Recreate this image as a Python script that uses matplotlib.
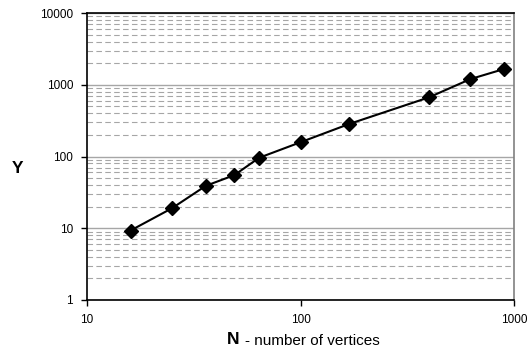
import matplotlib
matplotlib.use("Agg")
import matplotlib.pyplot as plt
import matplotlib.ticker as mticker

# data
n_vertices = [16, 25, 36, 49, 64, 100, 169, 400, 625, 900]
y_values = [9.3, 19, 39, 55, 96, 158, 284, 668, 1200, 1660]

x_ticks = [10, 100, 1000]
y_ticks = [1, 10, 100, 1000, 10000]

plt.rcParams['font.family'] = ['Liberation Sans', 'DejaVu Sans']

fig = plt.figure(figsize=(5.32, 3.54), dpi=100)
ax = fig.add_axes([87 / 532, 1 - 300 / 354, 427 / 532, 287 / 354])

ax.set_xscale("log")
ax.set_yscale("log")
ax.set_xlim(10, 1000)
ax.set_ylim(1, 10000)

# gridlines: solid at decades, dashed in between
ax.yaxis.set_major_locator(mticker.FixedLocator(y_ticks))
ax.yaxis.set_minor_locator(mticker.LogLocator(base=10, subs=range(2, 10)))
ax.xaxis.set_major_locator(mticker.FixedLocator(x_ticks))
ax.xaxis.set_minor_locator(mticker.NullLocator())
ax.yaxis.set_major_formatter(mticker.FuncFormatter(lambda v, p: "%d" % v))
ax.yaxis.set_minor_formatter(mticker.NullFormatter())
ax.xaxis.set_major_formatter(mticker.FuncFormatter(lambda v, p: "%d" % v))

ax.grid(True, which="major", axis="y", color="#a6a6a6", linewidth=1.0)
ax.grid(True, which="minor", axis="y", color="#a6a6a6", linewidth=0.8,
        linestyle=(0, (5, 3)))
ax.set_axisbelow(True)

ax.tick_params(axis="y", which="major", direction="out", length=4.5, width=1,
               labelsize=8.5, pad=5.5)
ax.tick_params(axis="y", which="minor", length=0)
ax.tick_params(axis="x", which="major", direction="out", length=4, width=1,
               labelsize=8.5, pad=6)

for s in ["left", "bottom", "top"]:
    ax.spines[s].set_color("black")
    ax.spines[s].set_linewidth(1.2)
ax.spines["right"].set_color("#808080")
ax.spines["right"].set_linewidth(1.2)

ax.plot(n_vertices, y_values, color="black", linewidth=1.5, marker="D",
        markersize=7, markerfacecolor="black", markeredgecolor="black",
        clip_on=False, zorder=3)

fig.text(18 / 532, 1 - 168 / 354, "Y", fontsize=12.5, fontweight="bold",
         ha="center", va="center")
fig.text(227 / 532, 1 - 340 / 354, "N", fontsize=12.5, fontweight="bold",
         ha="left", va="center")
fig.text(245 / 532, 1 - 341 / 354, "- number of vertices", fontsize=11,
         ha="left", va="center")

fig.savefig("out.png", dpi=100)
